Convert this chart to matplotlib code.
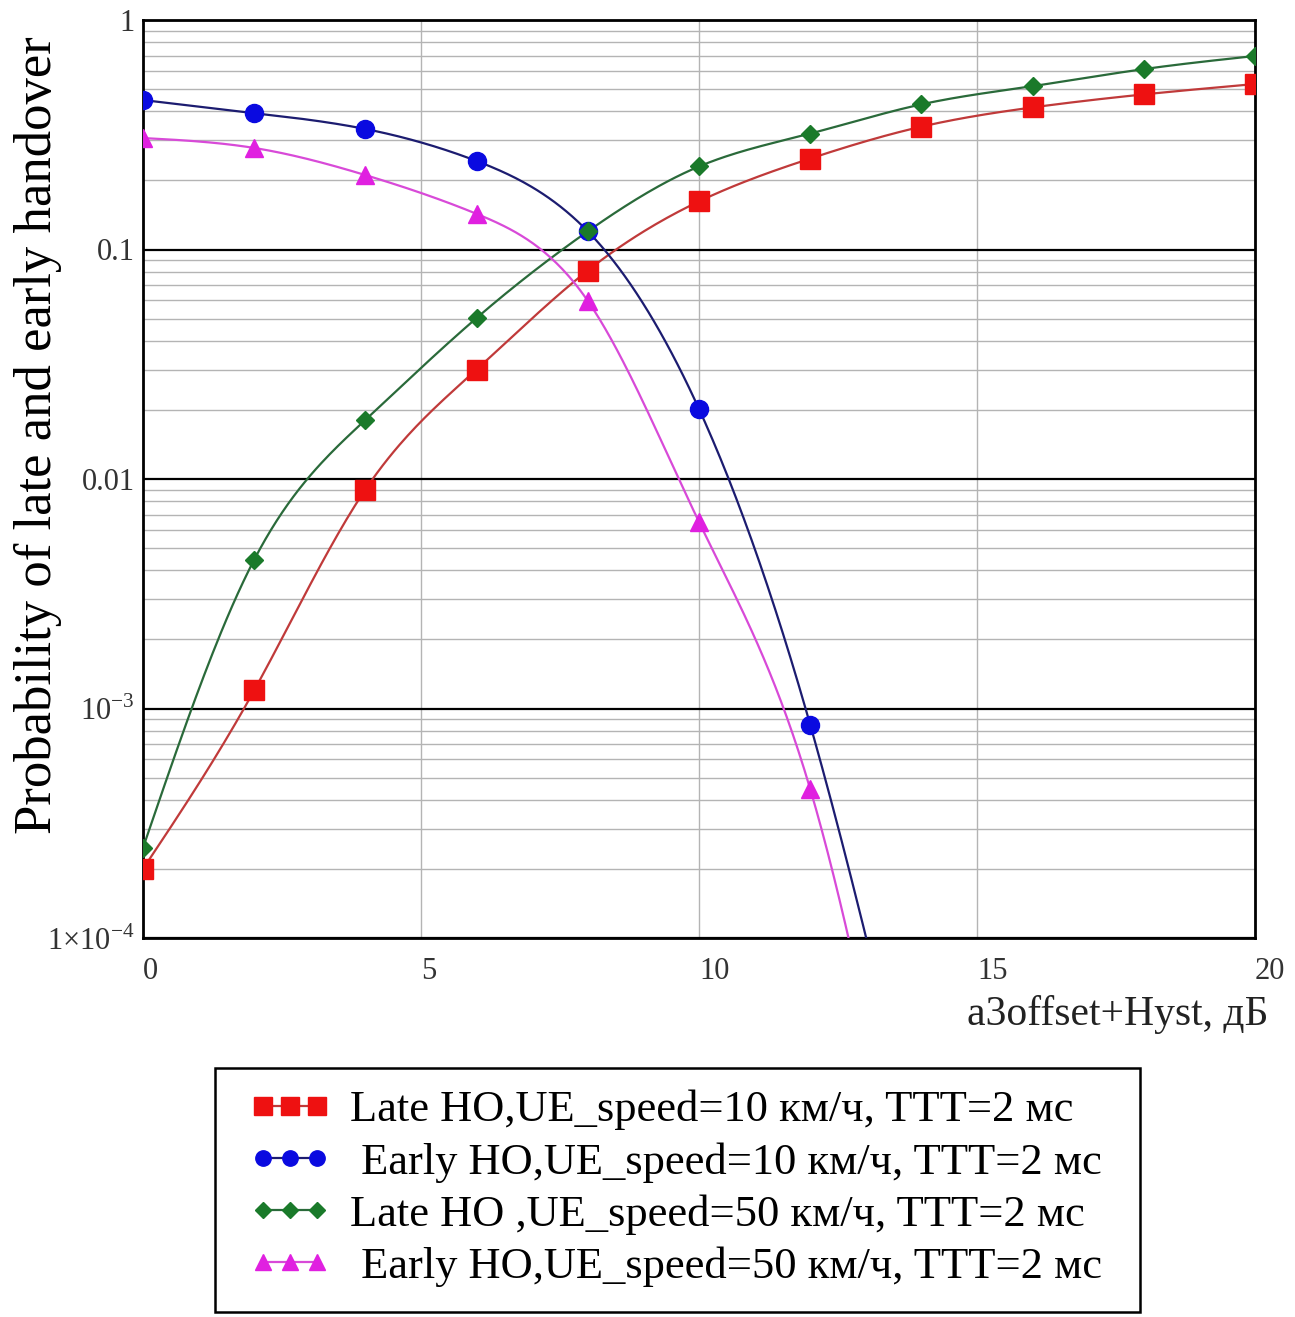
import matplotlib
matplotlib.use("Agg")
import matplotlib.pyplot as plt
import numpy as np
from matplotlib.lines import Line2D
from matplotlib.patches import Rectangle
from matplotlib.ticker import FixedLocator, LogLocator, NullFormatter

plt.rcParams["font.family"] = ["Liberation Serif", "DejaVu Serif"]
plt.rcParams["mathtext.fontset"] = "custom"
plt.rcParams["mathtext.rm"] = "Liberation Serif"

# a3offset+Hyst, dB
x_late = [0, 2, 4, 6, 8, 10, 12, 14, 16, 18, 20]
x_early = [0, 2, 4, 6, 8, 10, 12, 14]

late_10 = [2.0e-4, 1.2e-3, 9.0e-3, 0.030, 0.081, 0.162, 0.249, 0.343, 0.416, 0.474, 0.526]
early_10 = [0.448, 0.393, 0.335, 0.243, 0.120, 0.0202, 8.5e-4, 1.0e-5]
late_50 = [2.47e-4, 4.45e-3, 0.0181, 0.0503, 0.120, 0.230, 0.320, 0.429, 0.515, 0.611, 0.697]
early_50 = [0.306, 0.277, 0.211, 0.143, 0.0597, 6.5e-3, 4.46e-4, 3.0e-6]

labels = [
    "Late HO,UE_speed=10 км/ч, TTT=2 мс",
    " Early HO,UE_speed=10 км/ч, TTT=2 мс",
    "Late HO ,UE_speed=50 км/ч, TTT=2 мс",
    " Early HO,UE_speed=50 км/ч, TTT=2 мс",
]


def spline_log(x, y, n=400):
    """Spline cubica natural em log10(y)."""
    x = np.asarray(x, float)
    y = np.log10(np.asarray(y, float))
    h = np.diff(x)
    k = len(x)
    a = np.zeros((k, k))
    b = np.zeros(k)
    a[0, 0] = a[-1, -1] = 1.0
    for i in range(1, k - 1):
        a[i, i - 1] = h[i - 1]
        a[i, i] = 2 * (h[i - 1] + h[i])
        a[i, i + 1] = h[i]
        b[i] = 6 * ((y[i + 1] - y[i]) / h[i] - (y[i] - y[i - 1]) / h[i - 1])
    m = np.linalg.solve(a, b)
    xs = np.linspace(x[0], x[-1], n)
    idx = np.clip(np.searchsorted(x, xs) - 1, 0, k - 2)
    x0, x1 = x[idx], x[idx + 1]
    hh = x1 - x0
    t0, t1 = x1 - xs, xs - x0
    ys = (m[idx] * t0**3 + m[idx + 1] * t1**3) / (6 * hh) \
        + (y[idx] / hh - m[idx] * hh / 6) * t0 \
        + (y[idx + 1] / hh - m[idx + 1] * hh / 6) * t1
    return xs, 10 ** ys


series = [
    (x_late, late_10, "#c03a3a", "#ee1111", "s", 15),
    (x_early, early_10, "#1c1c70", "#0a0ae0", "o", 13),
    (x_late, late_50, "#2a6a3a", "#1a7a2a", "D", 9),
    (x_early, early_50, "#d84ad8", "#e020e0", "^", 13),
]

fig = plt.figure(figsize=(12.95, 13.17), dpi=100)
ax = fig.add_axes([143 / 1295, 1 - 938 / 1317, 1112 / 1295, 918 / 1317])

handles = []
for xs_, ys_, cl, cm, mk, ms in series:
    xf, yf = spline_log(xs_, ys_)
    ax.plot(xf, yf, color=cl, linewidth=1.6, zorder=3)
    ax.plot(xs_, ys_, linestyle="none", marker=mk, markersize=ms,
            markerfacecolor=cm, markeredgecolor=cm, zorder=4)
    handles.append(Line2D([], [], color=cl, linewidth=1.6, marker=mk,
                          markersize=ms, markerfacecolor=cm, markeredgecolor=cm))

ax.set_yscale("log")
ax.set_xlim(0, 20)
ax.set_ylim(1e-4, 1)

ax.xaxis.set_major_locator(FixedLocator([0, 5, 10, 15, 20]))
ax.set_xticklabels(["0", "5", "10", "15", "20"])
ax.yaxis.set_major_locator(FixedLocator([1e-4, 1e-3, 1e-2, 1e-1, 1]))
ax.set_yticklabels([r"$1{\times}10^{-4}$", r"$10^{-3}$", "0.01", "0.1", "1"])
ax.yaxis.set_minor_locator(LogLocator(base=10, subs=np.arange(2, 10), numticks=20))
ax.yaxis.set_minor_formatter(NullFormatter())

ax.grid(True, which="minor", axis="y", color="#b4b4b4", linewidth=1.0)
ax.grid(True, which="major", axis="y", color="black", linewidth=1.6)
ax.grid(True, which="major", axis="x", color="#b4b4b4", linewidth=1.0)
ax.set_axisbelow(True)
for sp in ax.spines.values():
    sp.set_linewidth(2.0)
    sp.set_color("black")

ax.tick_params(which="both", length=0, labelsize=22, labelcolor="#333333")
ax.tick_params(axis="x", pad=14)
ax.tick_params(axis="y", pad=6)
for lb in ax.get_xticklabels():
    lb.set_horizontalalignment("left")

fig.text(38 / 1295, 1 - 435 / 1317, "Probability of late and early handover",
         fontsize=38, rotation=90, ha="center", va="center")
fig.text(1268 / 1295, 1 - 1015 / 1317, "a3offset+Hyst, дБ", fontsize=30,
         ha="right", va="center", color="#222222")

fig.patches.append(Rectangle((215 / 1295, 1 - 1312 / 1317), 925 / 1295, 244 / 1317,
                             transform=fig.transFigure, fill=False,
                             edgecolor="black", linewidth=1.8))
fig.legend(handles, labels, loc="upper left",
           bbox_to_anchor=(210 / 1295, 1 - 1050 / 1317), frameon=False,
           numpoints=3, handlelength=1.8, handletextpad=0.45, markerscale=0.85,
           labelspacing=0.26, fontsize=32)

fig.savefig("out.png", dpi=100)
